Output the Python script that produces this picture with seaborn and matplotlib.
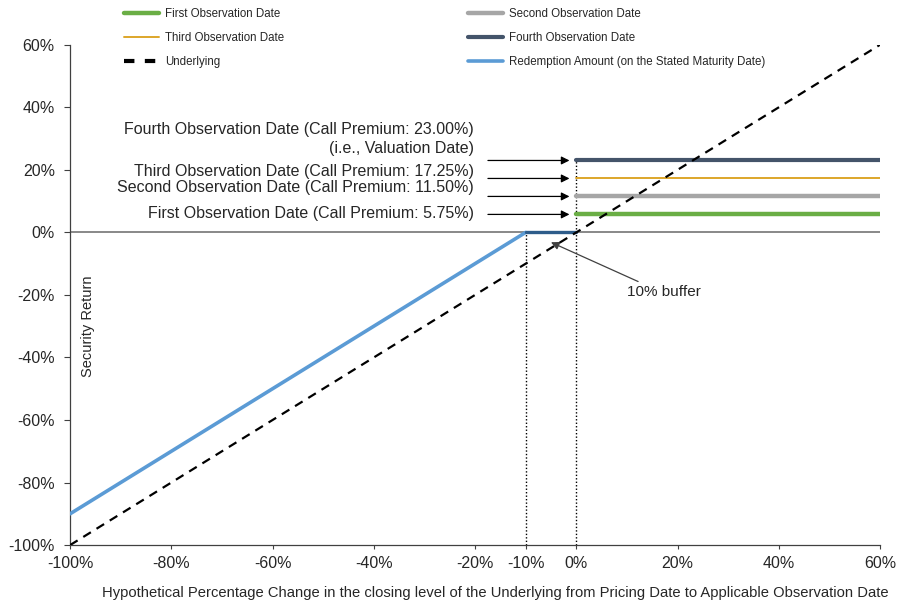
import seaborn as sns
import pandas as pd
import matplotlib.pyplot as plt
from matplotlib.lines import Line2D

# datos (en %)
underlying_x = [-100, 60]
underlying_y = [-100, 60]
redemption_x = [-100, -10]
redemption_y = [-90, 0]
buffer_x = [-10, 0]
buffer_y = [0, 0]
obs_x = [0, 60]
obs_names = ["First Observation Date", "Second Observation Date",
             "Third Observation Date", "Fourth Observation Date"]
obs_premium = [5.75, 11.50, 17.25, 23.00]
obs_colors = ["#6AAE45", "#A6A6A6", "#DDA62A", "#44546A"]
obs_widths = [3.2, 3.2, 1.4, 3.0]
obs_labels = ["First Observation Date (Call Premium: 5.75%)",
              "Second Observation Date (Call Premium: 11.50%)",
              "Third Observation Date (Call Premium: 17.25%)",
              "Fourth Observation Date (Call Premium: 23.00%)\n(i.e., Valuation Date)"]
x_ticks = [-100, -80, -60, -40, -20, -10, 0, 20, 40, 60]
y_ticks = [-100, -80, -60, -40, -20, 0, 20, 40, 60]

sns.set_theme(style="white")
plt.rcParams['font.family'] = ['Liberation Sans', 'DejaVu Sans']

fig = plt.figure(figsize=(8.98, 6.05), dpi=100)
ax = fig.add_axes([0.078, 0.099, 0.902, 0.827])

# linea cero
ax.axhline(0, color="#7F7F7F", lw=1.3, zorder=1)

# lineas verticales punteadas
ax.plot([-10, -10], [-100, 0], color="black", lw=1, ls=(0, (1, 1.5)), zorder=2)
ax.plot([0, 0], [-100, 23], color="black", lw=1, ls=(0, (1, 1.5)), zorder=2)

df_red = pd.DataFrame({"x": redemption_x, "y": redemption_y})
sns.lineplot(x="x", y="y", data=df_red, color="#5B9BD5", lw=2.6, ax=ax, zorder=4)
df_buf = pd.DataFrame({"x": buffer_x, "y": buffer_y})
sns.lineplot(x="x", y="y", data=df_buf, color="#2E5C8A", lw=2.4, ax=ax, zorder=4)

for name, p, c, w in zip(obs_names, obs_premium, obs_colors, obs_widths):
    df_o = pd.DataFrame({"x": obs_x, "y": [p, p]})
    sns.lineplot(x="x", y="y", data=df_o, color=c, lw=w, ax=ax, zorder=3)

df_u = pd.DataFrame({"x": underlying_x, "y": underlying_y})
sns.lineplot(x="x", y="y", data=df_u, color="black", lw=1.6, ls=(0, (4, 3)), ax=ax, zorder=5)

# flechas y textos
text_y = [6.0, 14.2, 19.4, 29.8]
for p, lab, ty in zip(obs_premium, obs_labels, text_y):
    ax.annotate("", xy=(-0.8, p), xytext=(-18, p),
                arrowprops=dict(arrowstyle="-|>", color="black", lw=0.9, mutation_scale=12))
    ax.text(-20.2, ty, lab, ha="right", va="center", fontsize=11.5,
            color="#262626", linespacing=1.35)

ax.annotate("10% buffer", xy=(-5.5, -2.8), xytext=(10, -19),
            fontsize=11, color="#262626", ha="left", va="center",
            arrowprops=dict(arrowstyle="-|>", color="#404040", lw=0.9,
                            mutation_scale=12, shrinkA=0, relpos=(0.25, 1.0)))

ax.set_xlim(-100, 60)
ax.set_ylim(-100, 60)
ax.set_xticks(x_ticks)
ax.set_xticklabels([f"{v}%" for v in x_ticks], fontsize=11.5)
ax.set_yticks(y_ticks)
ax.set_yticklabels([f"{v}%" for v in y_ticks], fontsize=11.5)
ax.tick_params(axis="y", left=True, length=4, width=0.8, color="#404040", pad=7)
ax.tick_params(axis="x", bottom=True, length=3, width=0.8, color="#404040", pad=5)
for s in ["top", "right"]:
    ax.spines[s].set_visible(False)
for s in ["left", "bottom"]:
    ax.spines[s].set_color("#404040")
    ax.spines[s].set_linewidth(0.9)

ax.set_xlabel("Hypothetical Percentage Change in the closing level of the Underlying from Pricing Date to Applicable Observation Date",
              fontsize=10.6, color="#262626")
ax.xaxis.set_label_coords(0.525, -0.082)
ax.set_ylabel("")
ax.text(-96.5, -30, "Security Return", rotation=90, fontsize=10.5, ha="center", va="center",
        color="#262626")

# leyenda
handles = [
    Line2D([], [], color=obs_colors[0], lw=3.2),
    Line2D([], [], color=obs_colors[2], lw=1.4),
    Line2D([], [], color="black", lw=3, ls=(0, (2.5, 2.5))),
    Line2D([], [], color=obs_colors[1], lw=3.2),
    Line2D([], [], color=obs_colors[3], lw=3.0),
    Line2D([], [], color="#5B9BD5", lw=2.6),
]
labels = ["First Observation Date", "Third Observation Date", "Underlying",
          "Second Observation Date", "Fourth Observation Date",
          "Redemption Amount (on the Stated Maturity Date)"]
fig.legend(handles, labels, ncol=2, loc="upper left", bbox_to_anchor=(0.127, 1.004),
           frameon=False, fontsize=8.3, handlelength=3.0, handletextpad=0.5,
           columnspacing=16.0, labelspacing=1.05)

fig.savefig("out.png", dpi=100)
